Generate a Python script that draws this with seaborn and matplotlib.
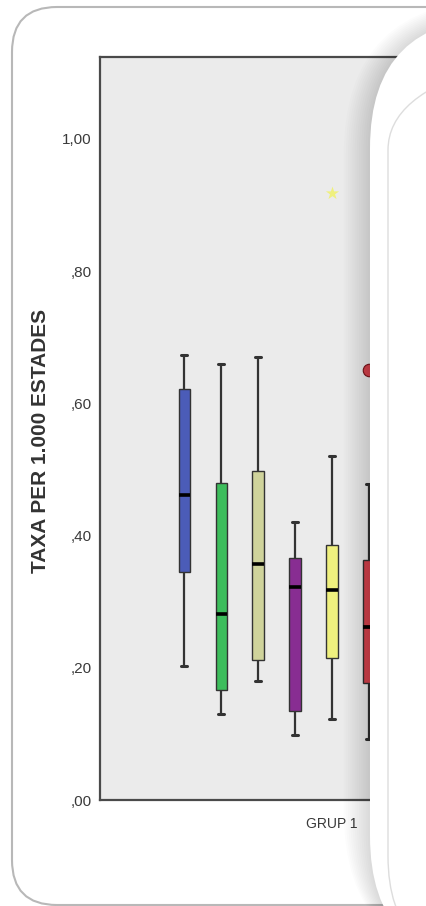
import numpy as np
import pandas as pd
import seaborn as sns
import matplotlib.pyplot as plt
from matplotlib.patches import FancyBboxPatch
from matplotlib.transforms import IdentityTransform

# Hospital levels in the cluster (only the first six are visible, the rest sit under the panel)
hospitals = ['H1', 'H2', 'H3', 'H4', 'H5', 'H6', 'H7', 'H8', 'H9']
colors = ['#4b5cb8', '#3dbd5c', '#cfd39b', '#882d92', '#eff07e', '#d9434c',
          '#ffffff', '#ffffff', '#ffffff']

# Box summaries: min, Q1, median, Q3, max
box_hosp = ['H1', 'H2', 'H3', 'H4', 'H5', 'H6']
box_min = [0.202, 0.130, 0.180, 0.099, 0.122, 0.092]
box_q1 = [0.345, 0.166, 0.212, 0.135, 0.215, 0.177]
box_med = [0.462, 0.281, 0.357, 0.322, 0.317, 0.262]
box_q3 = [0.622, 0.479, 0.497, 0.366, 0.386, 0.363]
box_max = [0.673, 0.660, 0.670, 0.420, 0.521, 0.478]

# Outliers
extreme_hosp = ['H5']
extreme_val = [0.918]
outlier_hosp = ['H6']
outlier_val = [0.650]

y_ticks = [0.0, 0.2, 0.4, 0.6, 0.8, 1.0]
y_tick_labels = [',00', ',20', ',40', ',60', ',80', '1,00']
group_label = 'GRUP 1'

# Build long-form data: five points per box give exactly these quartiles
rows = []
for h, a, b, c, d, e in zip(box_hosp, box_min, box_q1, box_med, box_q3, box_max):
    for v in (a, b, c, d, e):
        rows.append({'grup': group_label, 'hosp': h, 'taxa': v})
df = pd.DataFrame(rows)
ext = pd.DataFrame({'grup': group_label, 'hosp': extreme_hosp, 'taxa': extreme_val})
out = pd.DataFrame({'grup': group_label, 'hosp': outlier_hosp, 'taxa': outlier_val})
palette = dict(zip(hospitals, colors))

sns.set_style('white')
plt.rcParams['font.family'] = ['Liberation Sans', 'DejaVu Sans']

W, H = 427, 906
fig = plt.figure(figsize=(W / 100, H / 100), dpi=100)
fig.patch.set_facecolor('white')

# axes (right part runs under the overlay panel)
ax_left, ax_right, ax_top, ax_bottom = 100, 600, 57, 800
ax = fig.add_axes([ax_left / W, (H - ax_bottom) / H,
                   (ax_right - ax_left) / W, (ax_bottom - ax_top) / H])
ax.set_facecolor('#ebebeb')

sns.boxplot(data=df, x='grup', y='taxa', hue='hosp', hue_order=hospitals,
            palette=palette, saturation=1, width=0.8, gap=0.7, whis=10,
            showfliers=False, linecolor='#333333', linewidth=1.0, legend=False, ax=ax,
            medianprops=dict(color='black', linewidth=2.6),
            whiskerprops=dict(color='#333333', linewidth=1.6),
            capprops=dict(color='#333333', linewidth=2.2))

sns.stripplot(data=ext, x='grup', y='taxa', hue='hosp', hue_order=hospitals,
              palette=palette, dodge=True, jitter=False, marker='*', size=10,
              linewidth=0, legend=False, ax=ax)
sns.stripplot(data=out, x='grup', y='taxa', hue='hosp', hue_order=hospitals,
              palette=palette, dodge=True, jitter=False, marker='o', size=9,
              linewidth=0.8, edgecolor='#7a1a20', legend=False, ax=ax)

px_per_unit = 416.0
center_px = 332
ax.set_xlim(-(center_px - ax_left) / px_per_unit, (ax_right - center_px) / px_per_unit)
ax.set_ylim(0, (ax_bottom - ax_top) / 661.0)

ax.set_yticks(y_ticks)
ax.set_yticklabels(y_tick_labels, fontsize=11, color='#3a3a3a')
ax.set_xticks([0])
ax.set_xticklabels([group_label], fontsize=10, color='#3a3a3a')
ax.tick_params(axis='y', direction='out', length=5, width=1.3, color='#444444', pad=1)
ax.tick_params(axis='x', direction='out', length=8, width=1.5, color='#444444', pad=4)
ax.set_xlabel('')
ax.set_ylabel('TAXA PER 1.000 ESTADES', fontsize=15, fontweight='bold', color='#333333')
ax.yaxis.set_label_coords(-0.10, 0.483)
for side in ('left', 'bottom', 'top'):
    ax.spines[side].set_color('#4a4a4a')
    ax.spines[side].set_linewidth(1.6)
ax.spines['right'].set_visible(False)

ident = IdentityTransform()

# outer card behind the chart
card = FancyBboxPatch((12, 1), 700, H - 8, boxstyle='round,pad=0,rounding_size=45',
                      facecolor='none', edgecolor='#b8b8b8', linewidth=1.5,
                      transform=ident, zorder=-1)
fig.add_artist(card)

# soft shadow of the overlay panel
for i in range(1, 13):
    sh = FancyBboxPatch((370 - 2.2 * i, -60), 500, H + 60 - 18 + 1.5 * i,
                        boxstyle='round,pad=0,rounding_size=%f' % (130 + 2.2 * i),
                        facecolor='black', edgecolor='none', alpha=0.012,
                        transform=ident, zorder=4)
    fig.add_artist(sh)

# white overlay panel covering the right part
panel = FancyBboxPatch((370, -60), 500, H + 60 - 18, boxstyle='round,pad=0,rounding_size=130',
                       facecolor='white', edgecolor='none', transform=ident, zorder=5)
fig.add_artist(panel)
inner = FancyBboxPatch((388, -60), 500, H - 40 + 60, boxstyle='round,pad=0,rounding_size=110',
                       facecolor='none', edgecolor='#dddddd', linewidth=1.0,
                       transform=ident, zorder=6)
fig.add_artist(inner)

fig.savefig('out.png', dpi=100)
